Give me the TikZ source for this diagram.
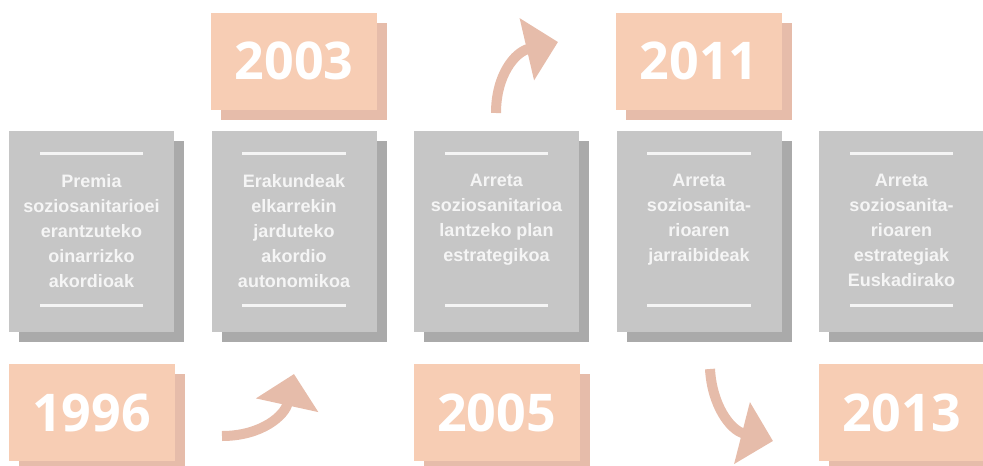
\documentclass[tikz,border=0pt]{standalone}
\usepackage{fontspec}
\setmainfont{Liberation Sans}
\newfontfamily\yearfont{Open Sans}
\usetikzlibrary{arrows.meta}

\definecolor{peach}{HTML}{F7CDB4}
\definecolor{peachdark}{HTML}{E6BCAA}
\definecolor{cardgray}{HTML}{C6C6C6}
\definecolor{carddark}{HTML}{AAAAAA}
\definecolor{cardwhite}{HTML}{F5F5F5}

\tikzset{
	card/.style={fill=cardgray, minimum width=165pt, minimum height=201pt, inner sep=0pt},
	cardshade/.style={card, fill=carddark},
	yearbox/.style={fill=peach, minimum width=166pt, minimum height=97pt, inner sep=0pt,
		text=white, font=\yearfont\bfseries\fontsize{52}{52}\selectfont},
	yearshade/.style={yearbox, fill=peachdark},
	cardtext/.style={text=cardwhite, align=center, anchor=north, inner sep=0pt,
		font=\bfseries\fontsize{18}{25}\selectfont},
	rule/.style={draw=cardwhite, line width=3pt},
	bendarrow/.style={draw=peachdark, line width=10pt, -{Triangle[length=32pt,width=62pt]}}
}

\begin{document}
\begin{tikzpicture}[x=1pt, y=-1pt]
	\path[use as bounding box, clip] (0,0) rectangle (983,466);

	%grey cards with shadow, rules and text
	\foreach \i/\x/\txt in {
		1/91.5/{Premia\\soziosanitarioei\\erantzuteko\\oinarrizko\\akordioak},
		2/294/{Erakundeak\\elkarrekin\\jarduteko\\akordio\\autonomikoa},
		3/496.5/{Arreta\\soziosanitarioa\\lantzeko plan\\estrategikoa},
		4/699/{Arreta\\soziosanita-\\rioaren\\jarraibideak},
		5/901.5/{Arreta\\soziosanita-\\rioaren\\estrategiak\\Euskadirako}}
	{
		\node[cardshade] at (\x+10,241.5) {};
		\node[card] (card\i) at (\x,231.5) {};
		\draw[rule] ([shift={(31,23)}]card\i.north west) -- ([shift={(-31,23)}]card\i.north east);
		\draw[rule] ([shift={(31,-27)}]card\i.south west) -- ([shift={(-31,-27)}]card\i.south east);
		\node[cardtext] (label\i) at ([yshift=-43]card\i.north) {\txt};
	}

	%years, bottom row
	\node[yearshade] at (101.5,422.5) {};
	\node[yearbox] (y1996) at (91.5,412.5) {1996};
	\node[yearshade] at (506.5,422.5) {};
	\node[yearbox] (y2005) at (496.5,412.5) {2005};
	\node[yearshade] at (911.5,422.5) {};
	\node[yearbox] (y2013) at (901.5,412.5) {2013};

	%years, top row
	\node[yearshade] at (304,71) {};
	\node[yearbox] (y2003) at (294,61) {2003};
	\node[yearshade] at (709,71) {};
	\node[yearbox] (y2011) at (699,61) {2011};

	%arrows
	\coordinate (a1s) at (222,436);
	\coordinate (a1e) at (294,374);
	\coordinate (a2s) at (496,113);
	\coordinate (a2e) at (558,42);
	\coordinate (a3s) at (710,369);
	\coordinate (a3e) at (773,441);
	\draw[bendarrow] (a1s) .. controls (262,436) and (285,415) .. (a1e);
	\draw[bendarrow] (a2s) .. controls (496,75) and (515,52) .. (a2e);
	\draw[bendarrow] (a3s) .. controls (712,405) and (730,430) .. (a3e);
\end{tikzpicture}
\end{document}
